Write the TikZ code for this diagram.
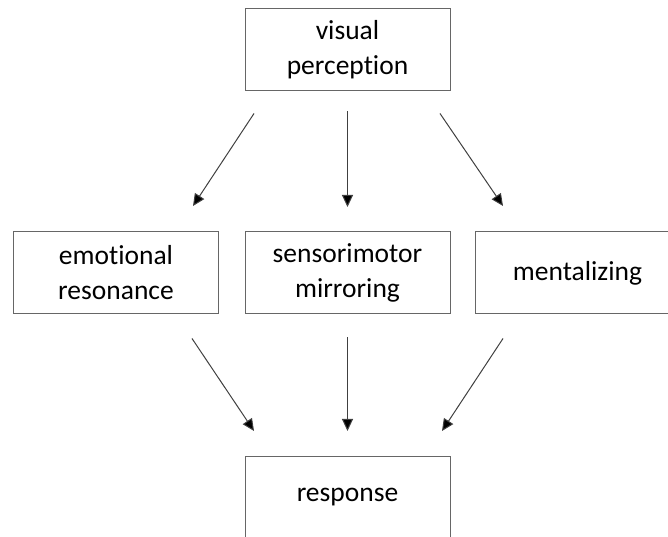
\documentclass[tikz,border=0pt]{standalone}
\usepackage{fontspec}
\setmainfont{Carlito}[Ligatures=NoCommon]
\usepackage{tikz}
\usetikzlibrary{arrows.meta}

\begin{document}
\begin{tikzpicture}[x=1pt,y=1pt,
  box/.style={draw=black!60, line width=1pt, minimum width=205pt, minimum height=82pt,
    align=center, inner sep=0pt, font=\fontsize{27.5}{35}\selectfont},
  arr/.style={draw=black!75, line width=1pt, -{Triangle[length=12pt,width=11pt,fill=black]}}]
\clip (0,0) rectangle (668,537);
%boxes
\node[box] (vp) at (347.5,487) {visual\\perception};
\node[box] (er) at (116,264) {emotional\\resonance};
\node[box] (sm) at (347.5,264) {sensorimotor\\mirroring};
\node[box] (mz) at (577.5,264) {mentalizing};
\node[box] (rs) at (347.5,39.5) {response};
%upper arrows
\draw[arr] ([shift={(-93.5,-22)}]vp.south) -- ([shift={(77,25.5)}]er.north);
\draw[arr] ([shift={(0,-20)}]vp.south) -- ([shift={(0,24.5)}]sm.north);
\draw[arr] ([shift={(92.5,-22)}]vp.south) -- ([shift={(-74.5,25.5)}]mz.north);
%lower arrows
\draw[arr] ([shift={(76,-24)}]er.south) -- ([shift={(-93.5,25)}]rs.north);
\draw[arr] ([shift={(0,-23)}]sm.south) -- ([shift={(0,25)}]rs.north);
\draw[arr] ([shift={(-74.5,-24)}]mz.south) -- ([shift={(94.5,25)}]rs.north);
\end{tikzpicture}
\end{document}
